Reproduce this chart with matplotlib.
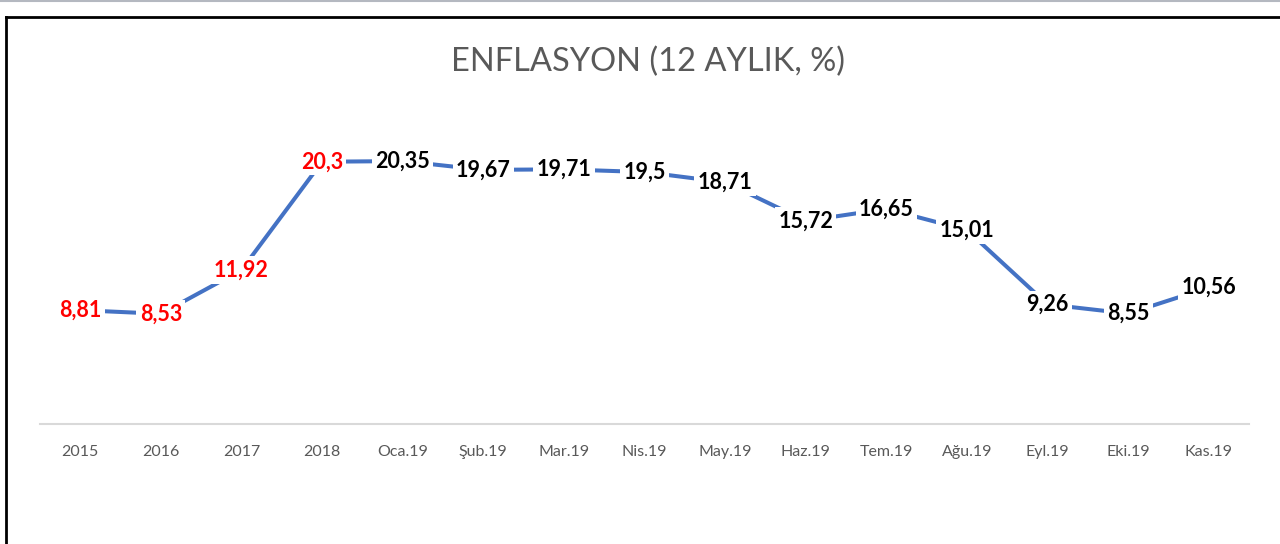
import matplotlib
matplotlib.use("Agg")
import matplotlib.pyplot as plt
from matplotlib.lines import Line2D

categories = ["2015", "2016", "2017", "2018", "Oca.19", "Şub.19", "Mar.19", "Nis.19",
              "May.19", "Haz.19", "Tem.19", "Ağu.19", "Eyl.19", "Eki.19", "Kas.19"]
values = [8.81, 8.53, 11.92, 20.3, 20.35, 19.67, 19.71, 19.5, 18.71, 15.72, 16.65,
          15.01, 9.26, 8.55, 10.56]
labels = ["8,81", "8,53", "11,92", "20,3", "20,35", "19,67", "19,71", "19,5", "18,71",
          "15,72", "16,65", "15,01", "9,26", "8,55", "10,56"]
label_colors = ["red"] * 4 + ["black"] * 11

plt.rcParams['font.family'] = ['Lato', 'DejaVu Sans']

fig = plt.figure(figsize=(12.8, 5.44), dpi=100)
ax = fig.add_axes([40/1280, 1 - 424/544, (1249-40)/1280, (424-101)/544])

x = list(range(len(categories)))
ax.plot(x, values, color="#4472C4", linewidth=2.9, solid_capstyle="butt", zorder=2)
for xi, v, lab, c in zip(x, values, labels, label_colors):
    ax.annotate(lab, (xi, v), ha="center", va="center", fontsize=15.5, fontweight="bold",
                color=c, zorder=3,
                bbox=dict(boxstyle="square,pad=0.15", fc="white", ec="none"))

ax.set_xlim(-0.5, len(categories) - 0.5)
ax.set_ylim(0, 25)
ax.set_xticks(x)
ax.set_xticklabels(categories, fontsize=11.5, color="#595959")
ax.tick_params(axis="x", length=0, pad=15)
ax.set_yticks([])
for s in ["top", "right", "left"]:
    ax.spines[s].set_visible(False)
ax.spines["bottom"].set_color("#d9d9d9")
ax.spines["bottom"].set_linewidth(1.5)

fig.text(648/1280, 1 - 62/544, "ENFLASYON (12 AYLIK, %)", ha="center", va="center",
         fontsize=23.5, color="#595959")

# outer frame
fig.add_artist(Line2D([6/1280, 6/1280], [0, 1 - 17/544], transform=fig.transFigure,
                      color="black", linewidth=2))
fig.add_artist(Line2D([6/1280, 1], [1 - 17/544, 1 - 17/544], transform=fig.transFigure,
                      color="black", linewidth=2))
fig.add_artist(Line2D([0, 1], [1 - 0.5/544, 1 - 0.5/544], transform=fig.transFigure,
                      color="#b4b8c0", linewidth=1.5))

fig.savefig("out.png", dpi=100, facecolor="white")
